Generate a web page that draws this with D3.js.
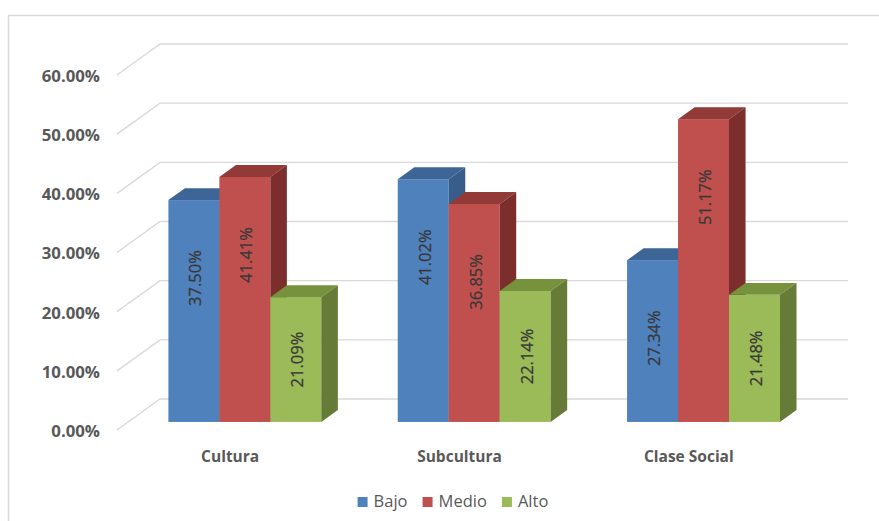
<!DOCTYPE html>
<html>
<head>
<meta charset="utf-8">
<script src="https://cdn.jsdelivr.net/npm/d3@7/dist/d3.min.js"></script>
<style>
  html, body { margin: 0; padding: 0; background: #ffffff; }
  svg { display: block; font-family: "Open Sans", "Noto Sans", sans-serif; }
</style>
</head>
<body>
<svg id="chart" width="879" height="521"></svg>
<script>
// Categories, series and values (percent)
const categories = ["Cultura", "Subcultura", "Clase Social"];
const seriesNames = ["Bajo", "Medio", "Alto"];
const bajo  = [37.50, 41.02, 27.34];
const medio = [41.41, 36.85, 51.17];
const alto  = [21.09, 22.14, 21.48];
const yTicks = [0, 10, 20, 30, 40, 50, 60];

const seriesValues = [bajo, medio, alto];
const faceColors = [
  { front: "#4f81bd", top: "#3d6696", side: "#385d8a" },
  { front: "#c0504d", top: "#913a37", side: "#7c2e2c" },
  { front: "#9bbb59", top: "#76923c", side: "#657b37" }
];

const svg = d3.select("#chart");

// Chart frame
svg.append("rect")
  .attr("x", 8.5).attr("y", 15.5)
  .attr("width", 900).attr("height", 600)
  .attr("fill", "none").attr("stroke", "#d9d9d9").attr("stroke-width", 1.5);

// 3D projection: front plane and depth vector
const depthX = 43, depthY = 31;
const frontLeft = 118, frontRight = 806;
const y = d3.scaleLinear().domain([0, 60]).range([430, 75]);
const x = d3.scaleBand().domain(categories).range([frontLeft, frontRight]).padding(0);
const groupGap = x.bandwidth() / 3;
const xs = d3.scaleBand().domain(seriesNames)
  .range([groupGap / 2 + 1, x.bandwidth() - groupGap / 2 + 1]).padding(0);
const t0 = 0.26, t1 = 0.645;   // bar depth span (fraction of floor depth)

// Gridlines: left wall diagonal + back wall horizontal
const grid = svg.append("g");
yTicks.forEach(v => {
  const fy = y(v);
  grid.append("path")
    .attr("d", `M${frontLeft - 1},${fy} L${frontLeft - 1 + depthX},${fy - depthY} L${frontRight + depthX - 1},${fy - depthY}`)
    .attr("fill", "none").attr("stroke", "#d9d9d9").attr("stroke-width", 1.4);
});

// Y axis tick labels
const yAxis = d3.axisLeft(y).tickValues(yTicks).tickSize(0).tickPadding(0)
  .tickFormat(v => d3.format(".2%")(v / 100));
const axisG = svg.append("g").attr("transform", "translate(100,1)").call(yAxis);
axisG.select(".domain").remove();
axisG.selectAll("text")
  .attr("fill", "#595959").attr("font-size", "16.8px").attr("font-weight", "bold")
  .attr("font-family", "'Open Sans', 'Noto Sans', sans-serif");

// Bars, drawn left to right so each front face covers its neighbour's side face
const bars = svg.append("g");
const labels = [];
categories.forEach((cat, i) => {
  seriesNames.forEach((s, j) => {
    const v = seriesValues[j][i];
    const c = faceColors[j];
    const w = xs.bandwidth();
    const x0 = x(cat) + xs(s) + t0 * depthX;
    const yb = y(0) - t0 * depthY;
    const yt = y(v) - t0 * depthY;
    const dx = (t1 - t0) * depthX, dy = (t1 - t0) * depthY;
    const g = bars.append("g");
    g.append("rect").attr("x", x0).attr("y", yt).attr("width", w).attr("height", yb - yt)
      .attr("fill", c.front);
    g.append("path")
      .attr("d", `M${x0},${yt} L${x0 + w},${yt} L${x0 + w + dx},${yt - dy} L${x0 + dx},${yt - dy} Z`)
      .attr("fill", c.top);
    g.append("path")
      .attr("d", `M${x0 + w},${yt} L${x0 + w + dx},${yt - dy} L${x0 + w + dx},${yb - dy} L${x0 + w},${yb} Z`)
      .attr("fill", c.side);
    labels.push({ v, cx: x0 + w / 2, cy: Math.min((yt + yb) / 2, yt + 78) });
  });
});

// Value labels, rotated inside the front faces
svg.append("g").selectAll("text").data(labels).join("text")
  .attr("transform", d => `translate(${d.cx + 1},${d.cy}) rotate(-90)`)
  .attr("text-anchor", "middle").attr("dominant-baseline", "central")
  .attr("fill", "#383838").attr("font-size", "16.5px")
  .attr("stroke", "#383838").attr("stroke-width", 0.25)
  .text(d => d3.format(".2f")(d.v) + "%");

// Category labels
svg.append("g").selectAll("text").data(categories).join("text")
  .attr("x", d => x(d) + x.bandwidth() / 2 - 2.5)
  .attr("y", 462)
  .attr("text-anchor", "middle")
  .attr("fill", "#595959").attr("font-size", "15.5px").attr("font-weight", "bold")
  .text(d => d);

// Legend
const legend = svg.append("g");
const items = legend.selectAll("g").data(seriesNames).join("g");
items.append("rect").attr("width", 10).attr("height", 10).attr("y", -10)
  .attr("fill", (d, j) => faceColors[j].front);
items.append("text").attr("x", 16).attr("y", 0)
  .attr("fill", "#595959").attr("font-size", "16.5px").text(d => d);
let lx = 0;
items.each(function () {
  d3.select(this).attr("transform", `translate(${lx},0)`);
  lx += this.getBBox().width + 15;
});
const legendWidth = lx - 15;
legend.attr("transform", `translate(${453 - legendWidth / 2},507)`);
</script>
</body>
</html>
